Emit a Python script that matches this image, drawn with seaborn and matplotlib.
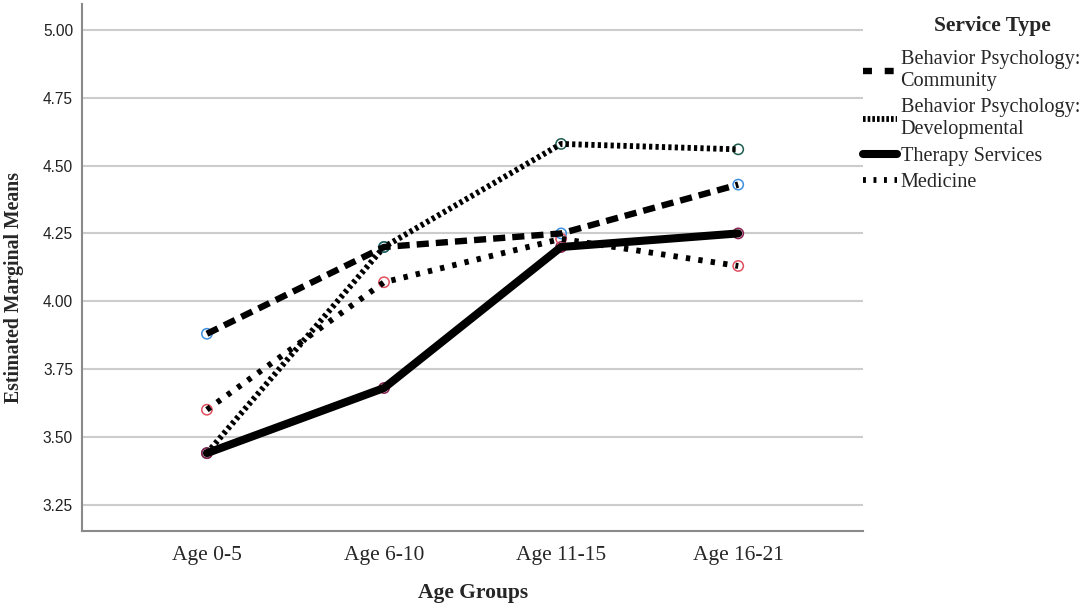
import pandas as pd
import seaborn as sns
import matplotlib.pyplot as plt
from matplotlib.lines import Line2D

# Estimated marginal means
age_groups = ['Age 0-5', 'Age 6-10', 'Age 11-15', 'Age 16-21']
community = [3.88, 4.20, 4.25, 4.43]
developmental = [3.44, 4.20, 4.58, 4.56]
therapy = [3.44, 3.68, 4.20, 4.25]
medicine = [3.60, 4.07, 4.23, 4.13]

services = ['Behavior Psychology: Community', 'Behavior Psychology: Developmental',
            'Therapy Services', 'Medicine']
legend_labels = ['Behavior Psychology:\nCommunity', 'Behavior Psychology:\nDevelopmental',
                 'Therapy Services', 'Medicine']
marker_colors = ['#3d8fe0', '#1e5e50', '#8c1f50', '#e0505e']

df = pd.DataFrame({
    'age': age_groups * 4,
    'pos': list(range(4)) * 4,
    'mean': community + developmental + therapy + medicine,
    'service': [s for s in services for _ in age_groups],
})

sns.set_style('white')
serif = 'Liberation Serif'

fig = plt.figure(figsize=(10.84, 6.11), dpi=100)
ax = fig.add_axes([0.0757, 0.131, 0.7205, 0.8625])

# open circle markers under the lines
sns.scatterplot(data=df, x='pos', y='mean', hue='service', palette=marker_colors,
                hue_order=services, s=55, marker='o', linewidth=1.1, legend=False,
                ax=ax, zorder=2)
pts = ax.collections[-1]
pts.set_edgecolors(pts.get_facecolors())
pts.set_facecolors('none')

dash_map = {services[0]: (1.9, 1.1), services[1]: (0.55, 0.55),
            services[2]: '', services[3]: (0.75, 1.4)}
sns.lineplot(data=df, x='pos', y='mean', hue='service', style='service',
             hue_order=services, style_order=services,
             palette=['black'] * 4, dashes=dash_map, linewidth=4.4,
             legend=False, ax=ax, zorder=3)
widths = [4.6, 4.2, 5.8, 4.2]
for line, lw in zip(ax.lines, widths):
    line.set_linewidth(lw)
    line.set_dash_capstyle('butt')
    line.set_solid_capstyle('round')

ax.set_xlim(-0.705, 3.705)
ax.set_ylim(3.153, 5.096)
ax.set_xticks(range(4))
ax.set_xticklabels(age_groups, fontfamily=serif, fontsize=15.5)
ax.set_yticks([3.25, 3.50, 3.75, 4.00, 4.25, 4.50, 4.75, 5.00])
ax.set_yticklabels([f'{v:.2f}' for v in ax.get_yticks()],
                   fontfamily='Liberation Sans', fontsize=11.2, color='#222222')
ax.tick_params(axis='x', length=0, pad=11)
ax.tick_params(axis='y', length=0, pad=6.5)
ax.yaxis.grid(True, color='#cccccc', linewidth=1.5)
ax.set_axisbelow(True)
for side in ['top', 'right']:
    ax.spines[side].set_visible(False)
for side in ['left', 'bottom']:
    ax.spines[side].set_color('#8a8a8a')
    ax.spines[side].set_linewidth(1.5)

ax.set_xlabel('Age Groups', fontfamily=serif, fontsize=15.5, fontweight='bold', labelpad=13)
ax.set_ylabel('Estimated Marginal Means', fontfamily=serif, fontsize=14.2,
              fontweight='bold')
ax.yaxis.set_label_coords(-0.074, 0.462)

# legend, title sits centred over the label column
handles = [Line2D([], [], color='black', linewidth=l.get_linewidth(),
                  linestyle=l.get_linestyle(), dash_capstyle='butt')
           for l in ax.lines]
handles[0].set_dashes((1.4, 2.0))
handles[1].set_dashes((0.45, 0.35))
handles[3].set_dashes((0.5, 1.3))
leg = ax.legend(handles, legend_labels, loc='upper left',
                bbox_to_anchor=(1.0, 0.912), frameon=False, handlelength=1.65,
                handletextpad=0.2, labelspacing=0.36, borderaxespad=0, borderpad=0,
                prop={'family': serif, 'size': 14.6})
fig.text(992 / 1084, 1 - 26 / 611, 'Service Type', ha='center', va='center',
         fontfamily=serif, fontsize=15.5, fontweight='bold')

fig.savefig('out.png', dpi=100)
